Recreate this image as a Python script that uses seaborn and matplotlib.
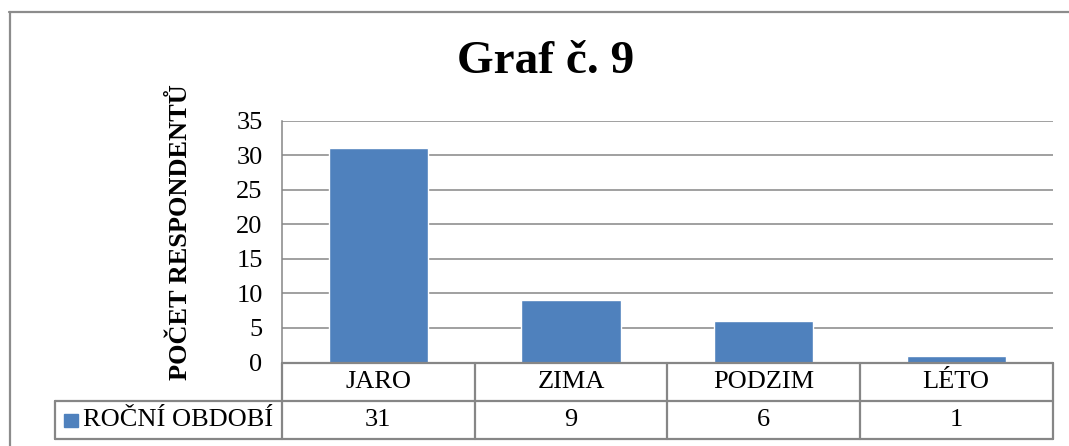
import matplotlib
matplotlib.use("Agg")
import matplotlib.pyplot as plt
from matplotlib.lines import Line2D
from matplotlib.patches import Rectangle
import seaborn as sns

# data
seasons = ["JARO", "ZIMA", "PODZIM", "LÉTO"]
counts = [31, 9, 6, 1]
series_name = "ROČNÍ OBDOBÍ"
title = "Graf č. 9"
ylabel = "POČET RESPONDENTŮ"
yticks = [0, 5, 10, 15, 20, 25, 30, 35]

bar_color = "#4F81BD"
line_color = "#868686"

sns.set_theme(style="white")
plt.rcParams["font.family"] = ["Liberation Serif", "DejaVu Serif"]
plt.rcParams["text.color"] = "black"
plt.rcParams["ytick.labelcolor"] = "black"

W, H = 1069, 446
fig = plt.figure(figsize=(W / 100, H / 100), dpi=100)

# plot area in pixels
left, right, top, bottom = 282, 1052.5, 120.5, 362.5
ax = fig.add_axes([left / W, 1 - bottom / H, (right - left) / W, (bottom - top) / H])

sns.barplot(x=seasons, y=counts, color=bar_color, saturation=1, width=0.515, ax=ax)

ax.set_ylim(0, 35)
ax.set_xlim(-0.5, len(seasons) - 0.5)
ax.set_yticks(yticks)
ax.yaxis.grid(True, color=line_color, linewidth=1.1)
ax.set_axisbelow(True)
ax.tick_params(axis="y", length=0, pad=14, labelsize=19, labelcolor="black")
ax.tick_params(axis="x", bottom=False, labelbottom=False)
ax.set_xlabel("")
ax.set_ylabel("")
for s in ["top", "right"]:
    ax.spines[s].set_visible(False)
for s in ["left", "bottom"]:
    ax.spines[s].set_color(line_color)
    ax.spines[s].set_linewidth(1.1)

# data table under the plot
ph = bottom - top
pw = right - left
r1 = -(400.5 - bottom) / ph
r2 = -(439 - bottom) / ph
tab_left = (55 - left) / pw
xtr = ax.get_xaxis_transform()
lw_t = 1.6

def hline(y, x0, x1, transform):
    ax.add_line(Line2D([x0, x1], [y, y], transform=transform, color=line_color,
                       lw=lw_t, clip_on=False))

def vline(x, y0, y1, transform):
    ax.add_line(Line2D([x, x], [y0, y1], transform=transform, color=line_color,
                       lw=lw_t, clip_on=False))

hline(0, 0, 1, ax.transAxes)
hline(r1, tab_left, 1, ax.transAxes)
hline(r2, tab_left, 1, ax.transAxes)
vline(tab_left, r1, r2, ax.transAxes)
for k in range(len(seasons) + 1):
    vline(k - 0.5, 0, r2, xtr)

for i, (name, val) in enumerate(zip(seasons, counts)):
    ax.text(i, r1 / 2, name, transform=xtr, ha="center", va="center",
            fontsize=19, color="black", clip_on=False)
    ax.text(i, (r1 + r2) / 2, str(val), transform=xtr, ha="center", va="center",
            fontsize=19, color="black", clip_on=False)

ax.add_patch(Rectangle(((64 - left) / pw, -(427 - bottom) / ph), 14 / pw, 13 / ph,
                       transform=ax.transAxes, color=bar_color, clip_on=False))
ax.text((83 - left) / pw, (r1 + r2) / 2, series_name, transform=ax.transAxes,
        ha="left", va="center", fontsize=19, color="black", clip_on=False)

# titles
fig.text(546 / W, 1 - 62 / H, title, ha="center", va="center",
         fontsize=34, fontweight="bold", color="black")
fig.text(180 / W, 1 - 232 / H, ylabel, ha="center", va="center",
         rotation=90, fontsize=19, fontweight="bold", color="black")

# outer chart frame
fig.add_artist(Line2D([9 / W, 1], [1 - 11.5 / H] * 2, transform=fig.transFigure,
                      color="#8C8C8C", lw=1.6))
fig.add_artist(Line2D([9.5 / W] * 2, [0, 1 - 11.5 / H], transform=fig.transFigure,
                      color="#8C8C8C", lw=1.6))

fig.savefig("out.png", dpi=100, facecolor="white")
